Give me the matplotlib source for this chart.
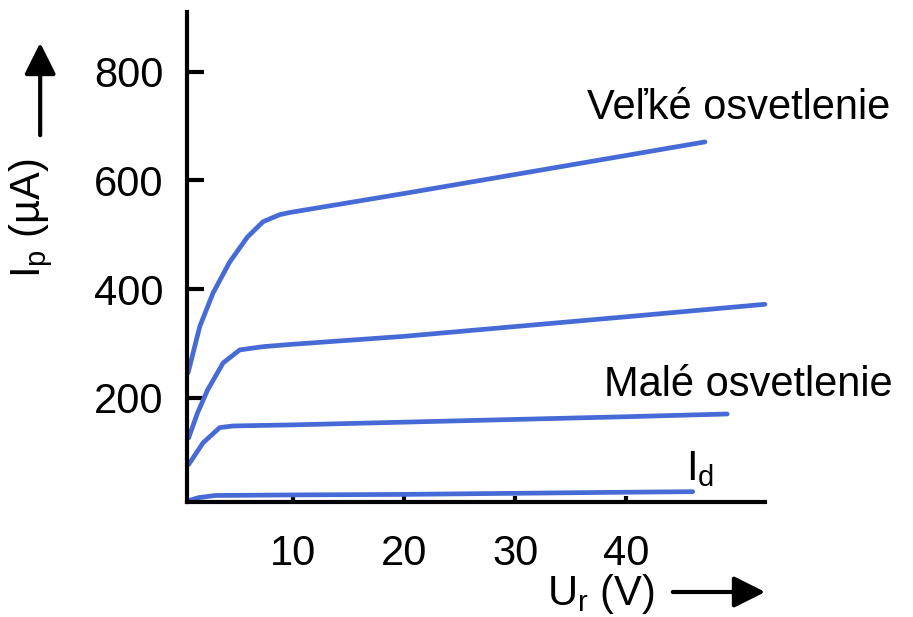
import matplotlib
matplotlib.use("Agg")
import matplotlib.pyplot as plt

plt.rcParams['font.family'] = ['Liberation Sans', 'DejaVu Sans']
plt.rcParams['mathtext.fontset'] = 'custom'
plt.rcParams['mathtext.rm'] = 'Liberation Sans'

# napätie Ur (V) a prúd Ip (uA) pre jednotlivé krivky
x_velke = [0.55, 1.6, 2.8, 4.3, 5.9, 7.3, 8.8, 9.7, 20.0, 30.0, 40.0, 47.1]
y_velke = [246, 331, 393, 450, 496, 524, 537, 541, 576, 611, 646, 671]

x_stredne = [0.6, 1.4, 2.3, 3.7, 5.2, 7.3, 9.7, 20.0, 30.0, 40.0, 52.5]
y_stredne = [126, 172, 214, 264, 288, 294, 298, 313, 331, 349, 372]

x_male = [0.6, 1.9, 3.4, 4.6, 10.0, 20.0, 30.0, 40.0, 49.1]
y_male = [77, 117, 145, 148, 150, 155, 160, 165, 170]

x_id = [0.5, 1.5, 3.0, 10.0, 20.0, 30.0, 40.0, 46.0]
y_id = [10, 16, 20, 21, 22, 24, 26, 27]

x_ticks = [10, 20, 30, 40]
y_ticks = [200, 400, 600, 800]

farba = '#476bd6'

fig = plt.figure(figsize=(9.13, 6.17), dpi=100)
ax = fig.add_axes([0.2048, 0.1864, 0.633, 0.794])

for xs, ys in [(x_velke, y_velke), (x_stredne, y_stredne), (x_male, y_male), (x_id, y_id)]:
    ax.plot(xs, ys, color=farba, lw=3.4, solid_capstyle='round',
            solid_joinstyle='round', clip_on=False)

ax.set_xlim(0.45, 52.5)
ax.set_ylim(8, 910)

for s in ['top', 'right']:
    ax.spines[s].set_visible(False)
for s in ['left', 'bottom']:
    ax.spines[s].set_linewidth(3)

ax.set_yticks(y_ticks)
ax.set_xticks(x_ticks)
ax.tick_params(axis='y', direction='in', length=12, width=3, labelsize=30, pad=17)
ax.tick_params(axis='x', direction='in', length=4, width=3, labelsize=30, pad=23)

ax.text(36.5, 733, 'Veľké osvetlenie', fontsize=30, va='center', ha='left')
ax.text(38.0, 224, 'Malé osvetlenie', fontsize=30, va='center', ha='left')
ax.text(45.4, 68, r'I$_\mathregular{d}$', fontsize=30, va='center', ha='left')

# popis osi y so šípkou
fig.text(0.034, 1 - 218 / 617, r'I$_\mathregular{p}$ (µA)', rotation=90, fontsize=30,
         ha='center', va='center')
fig.add_artist(matplotlib.patches.FancyArrowPatch(
    (0.044, 1 - 138 / 617), (0.044, 1 - 40 / 617), transform=fig.transFigure,
    arrowstyle='-|>', mutation_scale=48, lw=3, color='black'))

# popis osi x so šípkou
fig.text(601 / 913, 1 - 594 / 617, r'U$_\mathregular{r}$ (V)', fontsize=30,
         ha='center', va='center')
fig.add_artist(matplotlib.patches.FancyArrowPatch(
    (670 / 913, 1 - 592 / 617), (768 / 913, 1 - 592 / 617), transform=fig.transFigure,
    arrowstyle='-|>', mutation_scale=48, lw=3, color='black'))

fig.savefig('out.png', dpi=100)
